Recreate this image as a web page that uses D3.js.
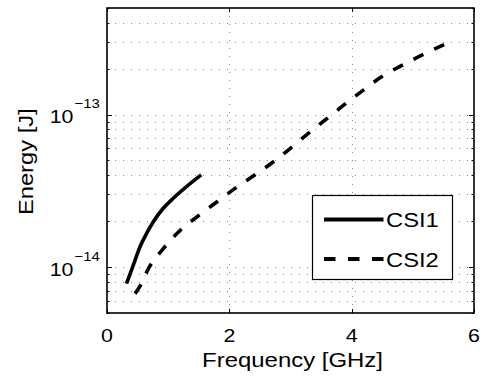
<!DOCTYPE html>
<html>
<head>
<meta charset="utf-8">
<script src="https://cdn.jsdelivr.net/npm/d3@7"></script>
<style>
  body { margin: 0; background: #fff; }
  text { font-family: "Liberation Sans", Arial, Helvetica, sans-serif; fill: #000; }
</style>
</head>
<body>
<div id="chart"></div>
<script>
// data
const csi1Freq = [0.32, 0.43, 0.54, 0.65, 0.76, 0.92, 1.08, 1.3, 1.54];
const csi1Energy = [7.8e-15, 1.03e-14, 1.36e-14, 1.67e-14, 1.99e-14, 2.43e-14, 2.82e-14, 3.37e-14, 4.02e-14];

const csi2Freq = [0.46, 0.54, 0.69, 0.9, 1.19, 1.5, 1.8, 2.12, 2.44, 2.76, 3.07, 3.36, 3.67, 3.98, 4.3, 4.45, 4.63, 4.96, 5.32, 5.61];
const csi2Energy = [6.7e-15, 7.5e-15, 1.0e-14, 1.29e-14, 1.73e-14, 2.18e-14, 2.68e-14, 3.34e-14, 4.08e-14, 5.04e-14, 6.35e-14, 7.93e-14, 9.94e-14, 1.25e-13, 1.56e-13, 1.73e-13, 1.91e-13, 2.25e-13, 2.65e-13, 3.0e-13];

const seriesNames = ["CSI1", "CSI2"];
const xTicks = [0, 2, 4, 6];
const yLabelTicks = [1e-14, 1e-13];

/**
 * Basic Settings
 */
const canvasWidth = 484;
const canvasHeight = 376;
const plot = { left: 107, right: 474, top: 8, bottom: 313 };
const stretch = 1.15; // the figure's font runs wider than Arial

const svg = d3.select("#chart")
  .append("svg")
  .attr("width", canvasWidth)
  .attr("height", canvasHeight)
  .style("background", "#fff");

const x = d3.scaleLinear()
  .domain([0, 6])
  .range([plot.left, plot.right]);

const y = d3.scaleLog()
  .domain([5e-15, 5e-13])
  .range([plot.bottom, plot.top]);

const yGridTicks = y.ticks(); // 1..9 multiples within the domain

// grid
const grid = svg.append("g")
  .attr("stroke", "#8a8a8a")
  .attr("stroke-width", 1)
  .attr("stroke-dasharray", "1,7");

grid.selectAll(".hgrid")
  .data(yGridTicks.filter(d => y(d) > plot.top + 1 && y(d) < plot.bottom - 1))
  .join("line")
  .attr("x1", plot.left)
  .attr("x2", plot.right)
  .attr("y1", d => Math.round(y(d)) + 0.5)
  .attr("y2", d => Math.round(y(d)) + 0.5);

grid.selectAll(".vgrid")
  .data(xTicks.slice(1, -1))
  .join("line")
  .attr("x1", d => Math.round(x(d)) + 0.5)
  .attr("x2", d => Math.round(x(d)) + 0.5)
  .attr("y1", plot.top)
  .attr("y2", plot.bottom);

// curves
const line = d3.line()
  .x(d => x(d[0]))
  .y(d => y(d[1]))
  .curve(d3.curveMonotoneX);

const csi1 = csi1Freq.map((f, i) => [f, csi1Energy[i]]);
const csi2 = csi2Freq.map((f, i) => [f, csi2Energy[i]]);

svg.append("path")
  .datum(csi1)
  .attr("fill", "none")
  .attr("stroke", "#000")
  .attr("stroke-width", 3.6)
  .attr("d", line);

svg.append("path")
  .datum(csi2)
  .attr("fill", "none")
  .attr("stroke", "#000")
  .attr("stroke-width", 3.6)
  .attr("stroke-dasharray", "11,12")
  .attr("d", line);

// box
svg.append("rect")
  .attr("x", plot.left)
  .attr("y", plot.top)
  .attr("width", plot.right - plot.left)
  .attr("height", plot.bottom - plot.top)
  .attr("fill", "none")
  .attr("stroke", "#000")
  .attr("stroke-width", 1.6);

// ticks (inward, both sides)
const ticks = svg.append("g").attr("stroke", "#000").attr("stroke-width", 1);
xTicks.forEach(function(t) {
  const px = Math.round(x(t)) + 0.5;
  ticks.append("line").attr("x1", px).attr("x2", px).attr("y1", plot.bottom).attr("y2", plot.bottom - 4);
  ticks.append("line").attr("x1", px).attr("x2", px).attr("y1", plot.top).attr("y2", plot.top + 4);
});
yGridTicks.forEach(function(t) {
  const py = Math.round(y(t)) + 0.5;
  const len = yLabelTicks.includes(t) ? 5 : 2.5;
  ticks.append("line").attr("x1", plot.left).attr("x2", plot.left + len).attr("y1", py).attr("y2", py);
  ticks.append("line").attr("x1", plot.right).attr("x2", plot.right - len).attr("y1", py).attr("y2", py);
});

// x tick labels
svg.selectAll(".xlabel")
  .data(xTicks)
  .join("text")
  .attr("transform", d => "translate(" + x(d) + ",341.7) scale(" + stretch + ",1)")
  .attr("text-anchor", "middle")
  .attr("font-size", 18.6)
  .text(d => d);

// y tick labels: 10 with superscript exponent
yLabelTicks.forEach(function(t) {
  const py = y(t);
  const exp = Math.round(Math.log10(t));
  svg.append("text")
    .attr("transform", "translate(73.5," + (py + 8.7) + ") scale(" + stretch + ",1)")
    .attr("text-anchor", "end")
    .attr("font-size", 18.6)
    .text("10");
  svg.append("text")
    .attr("transform", "translate(74.5," + (py - 6.3) + ") scale(" + stretch + ",1)")
    .attr("text-anchor", "start")
    .attr("font-size", 13)
    .text("\u2212" + Math.abs(exp));
});

// axis titles
svg.append("text")
  .attr("transform", "translate(292.5,367) scale(1.14,1)")
  .attr("text-anchor", "middle")
  .attr("font-size", 21)
  .text("Frequency [GHz]");

svg.append("text")
  .attr("transform", "translate(32.7,161.7) rotate(-90) scale(1.13,1)")
  .attr("text-anchor", "middle")
  .attr("font-size", 21)
  .text("Energy [J]");

// legend
const legend = svg.append("g");
legend.append("rect")
  .attr("x", 312.5)
  .attr("y", 195.5)
  .attr("width", 140)
  .attr("height", 84)
  .attr("fill", "#fff")
  .attr("stroke", "#000")
  .attr("stroke-width", 1.2);

const legendRows = [219.5, 259];
seriesNames.forEach(function(name, i) {
  legend.append("line")
    .attr("x1", 324)
    .attr("x2", 383.5)
    .attr("y1", legendRows[i])
    .attr("y2", legendRows[i])
    .attr("stroke", "#000")
    .attr("stroke-width", 3.8)
    .attr("stroke-dasharray", i === 1 ? "11.5,12.5" : null);
  legend.append("text")
    .attr("transform", "translate(386," + (legendRows[i] + 7.7) + ") scale(1.16,1)")
    .attr("font-size", 20.5)
    .text(name);
});
</script>
</body>
</html>
